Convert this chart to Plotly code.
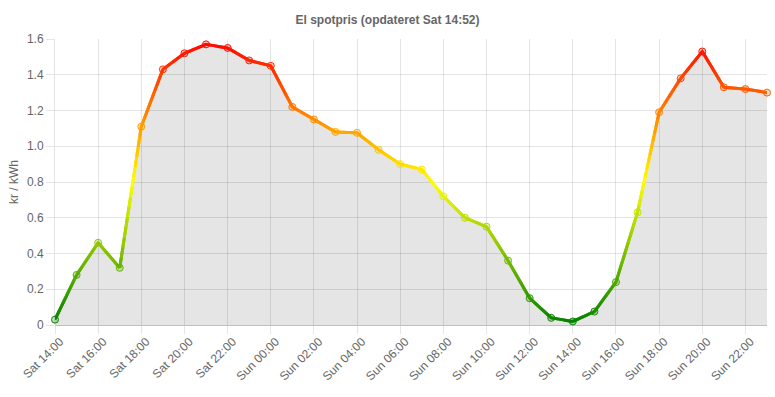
import numpy as np
import plotly.graph_objects as go

# ---- data ----
hour_labels = ["Sat 14:00", "Sat 15:00", "Sat 16:00", "Sat 17:00", "Sat 18:00", "Sat 19:00",
               "Sat 20:00", "Sat 21:00", "Sat 22:00", "Sat 23:00", "Sun 00:00", "Sun 01:00",
               "Sun 02:00", "Sun 03:00", "Sun 04:00", "Sun 05:00", "Sun 06:00", "Sun 07:00",
               "Sun 08:00", "Sun 09:00", "Sun 10:00", "Sun 11:00", "Sun 12:00", "Sun 13:00",
               "Sun 14:00", "Sun 15:00", "Sun 16:00", "Sun 17:00", "Sun 18:00", "Sun 19:00",
               "Sun 20:00", "Sun 21:00", "Sun 22:00", "Sun 23:00"]
prices = [0.03, 0.28, 0.46, 0.32, 1.11, 1.43, 1.52, 1.57, 1.55, 1.48, 1.45, 1.22,
          1.15, 1.08, 1.075, 0.98, 0.90, 0.87, 0.72, 0.60, 0.55, 0.36, 0.15, 0.04,
          0.02, 0.075, 0.24, 0.63, 1.19, 1.38, 1.53, 1.33, 1.32, 1.30]
y_ticks = [0, 0.2, 0.4, 0.6, 0.8, 1.0, 1.2, 1.4, 1.6]
y_tick_text = ["0", "0.2", "0.4", "0.6", "0.8", "1.0", "1.2", "1.4", "1.6"]
title_text = "El spotpris (opdateret Sat 14:52)"
y_title = "kr / kWh"

# ---- styling helpers ----
VMAX = 1.6
def color_rgb(v):
    t = min(max(v / VMAX, 0.0), 1.0)
    if t <= 0.5:
        s = t / 0.5
        r = 255 * s
        g = 128 + (255 - 128) * s
        b = 0
    else:
        s = (t - 0.5) / 0.5
        r = 255
        g = 255 * (1 - s)
        b = 0
    return int(round(r)), int(round(g)), int(round(b))

def rgb(v, a=None):
    r, g, b = color_rgb(v)
    if a is None:
        return f"rgb({r},{g},{b})"
    return f"rgba({r},{g},{b},{a})"

x_idx = np.arange(len(prices), dtype=float)
y_arr = np.array(prices, dtype=float)

fig = go.Figure()

# area fill
fig.add_trace(go.Scatter(x=x_idx, y=y_arr, mode="lines", fill="tozeroy",
                         fillcolor="rgba(0,0,0,0.1)", line=dict(width=0),
                         hoverinfo="skip", showlegend=False))

# gradient line: subdivide each segment for colouring (rendering only)
K = 14
NB = 80
bins = {}
sub_x = []
sub_y = []
for i in range(len(prices) - 1):
    for k in range(K):
        t = k / K
        sub_x.append(x_idx[i] + (x_idx[i + 1] - x_idx[i]) * t)
        sub_y.append(y_arr[i] + (y_arr[i + 1] - y_arr[i]) * t)
sub_x.append(x_idx[-1]); sub_y.append(y_arr[-1])
n = len(sub_x)
for j in range(n - 1):
    xs = [sub_x[j], sub_x[j + 1]]
    ys = [sub_y[j], sub_y[j + 1]]
    if j + 2 < n:
        xs.append(sub_x[j + 2]); ys.append(sub_y[j + 2])
    vm = 0.5 * (sub_y[j] + sub_y[j + 1])
    b = int(round(min(max(vm / VMAX, 0), 1) * (NB - 1)))
    bins.setdefault(b, ([], []))
    bins[b][0].extend(xs + [None])
    bins[b][1].extend(ys + [None])
for b in sorted(bins):
    v = b / (NB - 1) * VMAX
    fig.add_trace(go.Scatter(x=bins[b][0], y=bins[b][1], mode="lines",
                             line=dict(color=rgb(v), width=3),
                             hoverinfo="skip", showlegend=False, connectgaps=False))

# points
fig.add_trace(go.Scatter(x=x_idx, y=y_arr, mode="markers",
                         marker=dict(size=7, color=[rgb(v, 0.25) for v in prices],
                                     line=dict(color=[rgb(v) for v in prices], width=1)),
                         text=hour_labels, hovertemplate="%{text}: %{y}<extra></extra>",
                         showlegend=False, cliponaxis=False))

grid = "rgba(0,0,0,0.1)"
font_family = "Liberation Sans, Arial, Helvetica, sans-serif"
fig.update_layout(
    width=775, height=397,
    margin=dict(l=55, r=8, t=39, b=72, autoexpand=False),
    paper_bgcolor="white", plot_bgcolor="white",
    font=dict(family=font_family, size=12, color="#666"),
    title=dict(text=f"<b>{title_text}</b>", x=0.5, xanchor="center",
               y=1 - 20 / 397, yref="container", yanchor="middle",
               font=dict(size=12, color="#666")),
    xaxis=dict(range=[0, len(prices) - 1], automargin=False,
               tickvals=list(x_idx[::2]), ticktext=hour_labels[::2],
               tickangle=-45, showgrid=True, gridcolor=grid, gridwidth=1,
               ticks="outside", ticklen=8, tickcolor=grid, zeroline=False,
               ticklabelstandoff=-4, ticklabelshift=5,
               tickfont=dict(size=12, color="#666")),
    yaxis=dict(range=[0, 1.6], tickvals=y_ticks, ticktext=y_tick_text, automargin=False,
               showgrid=True, gridcolor=grid, gridwidth=1,
               ticks="outside", ticklen=8, tickcolor=grid,
               zeroline=True, zerolinecolor="rgba(0,0,0,0.25)", zerolinewidth=1,
               showline=True, linecolor=grid, linewidth=1,
               tickfont=dict(size=12, color="#666")),
    annotations=[dict(text=y_title, xref="paper", yref="paper",
                      x=(14 - 55) / 712, y=0.5, textangle=-90, showarrow=False,
                      xanchor="center", yanchor="middle",
                      font=dict(size=12, color="#666"))],
    hovermode="closest",
)

fig.write_html("out.html", config={"displayModeBar": False},
               post_script="document.body.style.margin='0px';document.body.style.overflow='hidden';")
